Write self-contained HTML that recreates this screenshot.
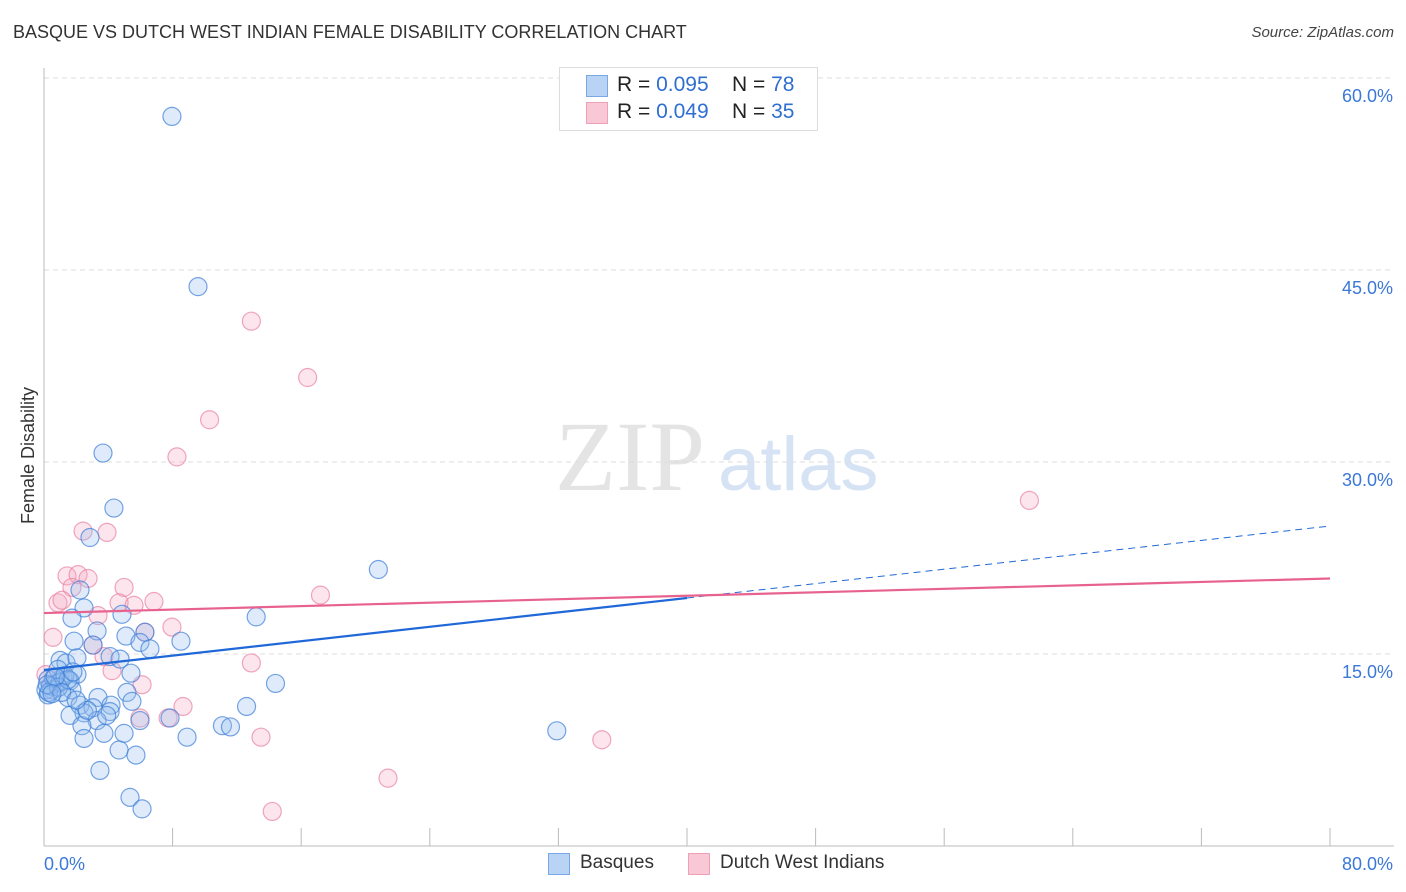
<!DOCTYPE html>
<html><head><meta charset="utf-8"><style>
body{margin:0;background:#fff;font-family:"Liberation Sans",sans-serif;}
#wrap{position:relative;width:1406px;height:892px;overflow:hidden;}
.t{position:absolute;white-space:nowrap;}
</style></head><body>
<div id="wrap">
<div class="t" style="left:13px;top:22px;font-size:18px;color:#333;">BASQUE VS DUTCH WEST INDIAN FEMALE DISABILITY CORRELATION CHART</div>
<div class="t" style="right:12px;top:24px;font-size:15px;color:#444;font-style:italic;">Source: ZipAtlas.com</div>
<div class="t" style="left:-40px;top:445px;font-size:18px;color:#333;transform:rotate(-90deg);">Female Disability</div>
<svg id="svg" width="1406" height="892" style="position:absolute;left:0;top:0"></svg>
<div class="t" style="left:559px;top:67px;width:257px;height:62px;border:1px solid #ddd;background:#fff;"></div>
<div class="t" style="left:586px;top:75px;width:20px;height:20px;background:#b9d3f5;border:1px solid #7aa7e6;"></div>
<div class="t" style="left:586px;top:102px;width:20px;height:20px;background:#f9c8d6;border:1px solid #eda0b8;"></div>
<div class="t" style="left:617px;top:73px;font-size:21px;color:#222;">R = <span style="color:#2f6fd0">0.095</span>&nbsp;&nbsp;&nbsp; N = <span style="color:#2f6fd0">78</span></div>
<div class="t" style="left:617px;top:100px;font-size:21px;color:#222;">R = <span style="color:#2f6fd0">0.049</span>&nbsp;&nbsp;&nbsp; N = <span style="color:#2f6fd0">35</span></div>
<div class="t" style="left:548px;top:853px;width:20px;height:20px;background:#b9d3f5;border:1px solid #7aa7e6;"></div>
<div class="t" style="left:580px;top:852px;font-size:19px;color:#333;">Basques</div>
<div class="t" style="left:688px;top:853px;width:20px;height:20px;background:#f9c8d6;border:1px solid #eda0b8;"></div>
<div class="t" style="left:720px;top:852px;font-size:19px;color:#333;">Dutch West Indians</div>
</div>
<script>
const yTicks=[15,30,45,60];
const yTickLabels=["15.0%","30.0%","45.0%","60.0%"];
const xTicks=[0,8,16,24,32,40,48,56,64,72,80];
const xEndLabels=["0.0%","80.0%"];
const basqueX=[7.96,9.58,3.67,4.35,2.86,20.8,2.24,2.49,4.85,13.2,1.74,3.30,5.10,6.28,1.87,8.52,5.97,6.59,3.05,4.11,4.73,1.0,1.37,2.05,5.41,2.05,1.18,0.25,0.75,1.62,0.5,1.74,14.4,3.36,5.16,1.49,5.47,2.24,4.17,3.05,12.6,2.49,1.62,4.11,3.30,5.97,7.84,11.1,11.6,2.36,3.73,4.98,2.49,8.90,31.9,4.67,5.72,3.48,5.35,6.10,0.12,0.25,0.87,0.4,0.6,1.0,1.3,0.3,0.9,1.5,2.7,3.9,0.2,0.7,1.1,2.0,0.5,1.8];
const basqueY=[57.0,43.7,30.7,26.4,24.1,21.6,20.0,18.6,18.1,17.9,17.8,16.8,16.4,16.7,16.0,16.0,15.9,15.4,15.7,14.8,14.6,14.5,14.3,14.7,13.5,13.4,13.2,13.0,12.7,12.9,12.2,12.2,12.7,11.6,12.0,11.6,11.3,11.0,11.0,10.8,10.9,10.4,10.2,10.5,9.8,9.8,10.0,9.4,9.3,9.4,8.8,8.8,8.4,8.5,9.0,7.5,7.1,5.9,3.8,2.9,12.2,11.8,13.8,12.5,13.1,12.8,13.3,12.0,12.4,13.0,10.6,10.2,12.6,13.2,12.0,11.4,11.9,13.6];
const dutchX=[12.9,16.4,10.3,8.27,61.3,2.43,3.92,1.43,2.12,2.74,1.74,4.98,0.87,1.12,4.67,5.6,6.84,17.2,3.36,0.56,3.05,6.28,7.96,3.73,4.23,12.9,6.10,8.65,7.72,5.97,13.5,34.7,21.4,14.2,0.12];
const dutchY=[41.0,36.6,33.3,30.4,27.0,24.6,24.5,21.1,21.2,20.9,20.2,20.2,19.0,19.2,19.0,18.8,19.1,19.6,18.0,16.3,15.7,16.7,17.1,14.8,13.7,14.3,12.6,10.9,10.0,10.0,8.5,8.3,5.3,2.7,13.4];
const basqueTrend=[13.75,25.0];
const dutchTrend=[18.2,20.9];
const blueSolidEnd=40;

const X0=44,X1=1330,Y0=846,PX=192/15;
const sx=v=>X0+(v-0)*(X1-X0)/80;
const sy=v=>Y0-v*PX;
const svg=document.getElementById('svg');
const NS='http://www.w3.org/2000/svg';
function mk(t,a){const e=document.createElementNS(NS,t);for(const k in a)e.setAttribute(k,a[k]);svg.appendChild(e);return e;}
let wm=mk('text',{x:555,y:490,'font-size':100,'font-family':'Liberation Serif,serif',fill:'#e4e4e4'});wm.textContent='ZIP';


let wm2=mk('text',{x:718,y:490,'font-size':76,'font-family':'Liberation Sans,sans-serif',fill:'#d6e3f5'});wm2.textContent='atlas';


yTicks.forEach((v,i)=>{
 const g=mk('line',{x1:X0,x2:1394,y1:sy(v),y2:sy(v),stroke:'#ddd','stroke-dasharray':'5,4'});
 
 
 const t=mk('text',{x:1393,y:sy(v)+24,'text-anchor':'end','font-size':18,fill:'#3b78d8','font-family':'Liberation Sans,sans-serif'});t.textContent=yTickLabels[i];
 
 
});
const ax=mk('line',{x1:X0,x2:X0,y1:68,y2:Y0,stroke:'#bbb'});


const bx=mk('line',{x1:X0,x2:1394,y1:Y0,y2:Y0,stroke:'#bbb'});


xTicks.forEach(v=>{const t=mk('line',{x1:sx(v),x2:sx(v),y1:Y0,y2:Y0-18,stroke:'#bbb'});
 
 });
const xl0=mk('text',{x:44,y:870,'font-size':18,fill:'#3b78d8','font-family':'Liberation Sans,sans-serif'});xl0.textContent=xEndLabels[0];


const xl1=mk('text',{x:1393,y:870,'text-anchor':'end','font-size':18,fill:'#3b78d8','font-family':'Liberation Sans,sans-serif'});xl1.textContent=xEndLabels[1];


dutchX.forEach((x,i)=>{const c=mk('circle',{cx:sx(x),cy:sy(dutchY[i]),r:9,fill:'rgba(246,170,195,0.3)',stroke:'rgba(232,130,163,0.7)','stroke-width':1.2});
 
 });
basqueX.forEach((x,i)=>{const c=mk('circle',{cx:sx(x),cy:sy(basqueY[i]),r:9,fill:'rgba(150,190,240,0.3)',stroke:'rgba(60,125,215,0.7)','stroke-width':1.2});
 
 });
const bt=x=>basqueTrend[0]+(basqueTrend[1]-basqueTrend[0])*x/80;
const l1=mk('line',{x1:sx(0),y1:sy(bt(0)),x2:sx(blueSolidEnd),y2:sy(bt(blueSolidEnd)),stroke:'#2068d8','stroke-width':2.2});


const l2=mk('line',{x1:sx(blueSolidEnd),y1:sy(bt(blueSolidEnd)),x2:sx(80),y2:sy(bt(80)),stroke:'#2068d8','stroke-width':1,'stroke-dasharray':'7,5'});


const l3=mk('line',{x1:sx(0),y1:sy(dutchTrend[0]),x2:sx(80),y2:sy(dutchTrend[1]),stroke:'#e8628e','stroke-width':2.2});


</script>
</body></html>
